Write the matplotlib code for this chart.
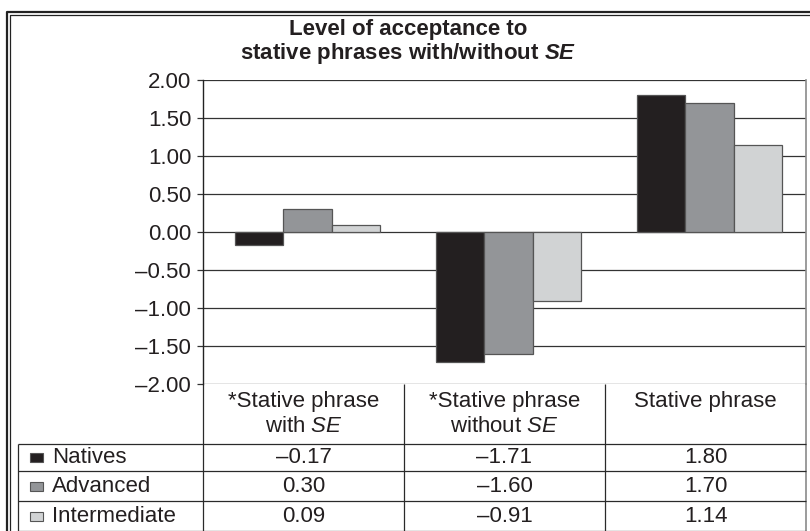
import numpy as np
import matplotlib.pyplot as plt
from matplotlib.patches import Rectangle
from matplotlib.transforms import ScaledTranslation

# Mean acceptance scores per group and phrase type
categories = [("*Stative phrase", "with $\\mathit{SE}$"),
              ("*Stative phrase", "without $\\mathit{SE}$"),
              ("Stative phrase", "")]
groups = ["Natives", "Advanced", "Intermediate"]
natives = [-0.17, -1.71, 1.80]
advanced = [0.30, -1.60, 1.70]
intermediate = [0.09, -0.91, 1.14]
y_ticks = [-2.0, -1.5, -1.0, -0.5, 0.0, 0.5, 1.0, 1.5, 2.0]

colors = ["#231f20", "#939598", "#d1d3d4"]
TEXT = "#231f20"

plt.rcParams["font.family"] = ["Liberation Sans", "DejaVu Sans"]
plt.rcParams["mathtext.fontset"] = "custom"
plt.rcParams["mathtext.rm"] = "Liberation Sans"
plt.rcParams["mathtext.it"] = "Liberation Sans:italic"
plt.rcParams["mathtext.bfit"] = "Liberation Sans:italic:bold"


def dash(v):
    # typeset negatives with an en dash
    return f"{v:.2f}".replace("-", "\u2013")


W, H = 810, 531
fig = plt.figure(figsize=(W / 100, H / 100), dpi=100)

# full-figure layer in pixel units for the frame and the data table
bg = fig.add_axes([0, 0, 1, 1])
bg.set_xlim(0, W)
bg.set_ylim(H, 0)
bg.axis("off")

# double frame around the figure
bg.plot([6.5, 6.5, 830], [560, 11.5, 11.5], color="#222", lw=1.6, solid_capstyle="butt")
bg.plot([9.7, 9.7, 830], [560, 15.2, 15.2], color="#222", lw=0.9, solid_capstyle="butt")

# chart area
left, right, top, bottom = 203, 806, 80, 384
ax = fig.add_axes([left / W, (H - bottom) / H, (right - left) / W, (bottom - top) / H])
ax.patch.set_visible(False)

x = np.arange(len(categories))
bw = 0.24
series = [natives, advanced, intermediate]
for i, (vals, c) in enumerate(zip(series, colors)):
    ax.bar(x + (i - 1) * bw + 0.02, vals, bw, color=c, edgecolor="#555555", lw=0.9, zorder=3)

ax.set_xlim(-0.5, 2.5)
ax.set_ylim(-2, 2)
ax.set_yticks(y_ticks)
ax.set_yticklabels([dash(v) for v in y_ticks], fontsize=16, color=TEXT)
shift = ScaledTranslation(0, -3.5 / 100, fig.dpi_scale_trans)
for lab in ax.get_yticklabels():
    lab.set_transform(lab.get_transform() + shift)
ax.set_xticks([])
ax.grid(axis="y", color="#333333", lw=0.9, zorder=0)
ax.tick_params(axis="y", length=4.5, width=0.9, color="#333333", pad=4)
for s in ["top", "bottom"]:
    ax.spines[s].set_visible(False)
ax.spines["left"].set_color("#222")
ax.spines["left"].set_linewidth(1.0)
ax.spines["right"].set_color("#8a8a8a")
ax.spines["right"].set_linewidth(1.2)

# title
fig.text(408 / W, 1 - 29 / H, "Level of acceptance to", ha="center", va="center",
         fontsize=16, fontweight="bold", color=TEXT)
fig.text(408 / W, 1 - 53 / H, "stative phrases with/without $\\mathbfit{SE}$", ha="center",
         va="center", fontsize=16, fontweight="bold", color=TEXT)

# data table under the chart
col_edges = [left, 404, 605, right]
row_edges = [444, 471, 501, 531]
line_kw = dict(color="#2a2a2a", lw=0.9, solid_capstyle="butt")

bg.plot([left, left], [bottom, H + 5], **line_kw)
for cx in col_edges[1:-1]:
    bg.plot([cx, cx], [bottom, H + 5], **line_kw)
bg.plot([right, right], [bottom, H + 5], color="#8a8a8a", lw=1.2)
bg.plot([18, 18], [row_edges[0], H + 5], **line_kw)
for ry in row_edges[:-1]:
    bg.plot([18, right], [ry, ry], **line_kw)
bg.plot([18, right], [H - 0.5, H - 0.5], **line_kw)

for j, (l1, l2) in enumerate(categories):
    cx = (col_edges[j] + col_edges[j + 1]) / 2
    bg.text(cx, 402, l1, ha="center", va="center", fontsize=16, color=TEXT)
    if l2:
        bg.text(cx, 426, l2, ha="center", va="center", fontsize=16, color=TEXT)

for i, (name, vals, c) in enumerate(zip(groups, series, colors)):
    cy = (row_edges[i] + row_edges[i + 1]) / 2
    bg.add_patch(Rectangle((30, cy - 4.5), 13, 9, facecolor=c, edgecolor="#555555", lw=0.8))
    bg.text(52, cy, name, ha="left", va="center", fontsize=16, color=TEXT)
    for j, v in enumerate(vals):
        cx = (col_edges[j] + col_edges[j + 1]) / 2
        bg.text(cx, cy, dash(v), ha="center", va="center", fontsize=16, color=TEXT)

fig.savefig("out.png", dpi=100)
